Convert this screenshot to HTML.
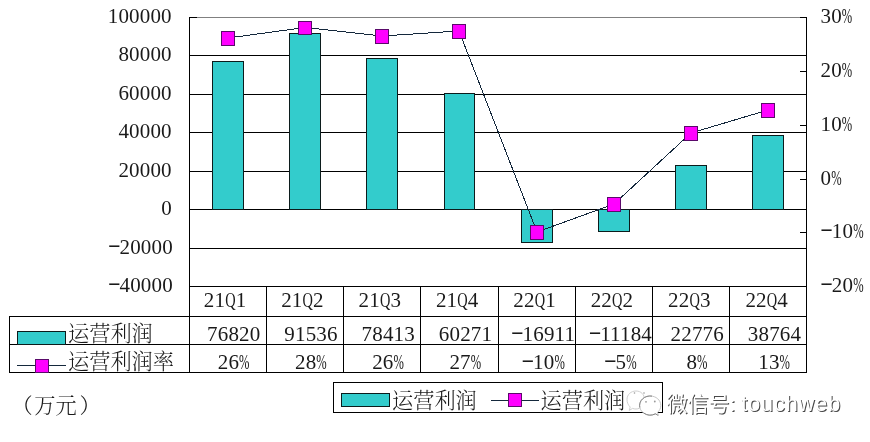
<!DOCTYPE html>
<html lang="zh"><head><meta charset="utf-8"><title>运营利润</title>
<style>html,body{margin:0;padding:0;background:#fff}body{width:870px;height:442px;overflow:hidden}svg{display:block}
text{font-family:"Liberation Serif","Noto Serif CJK SC",serif;font-size:21px;fill:#1a1a1a;letter-spacing:0.17px}
.cj{font-family:"Liberation Serif","Noto Serif CJK SC",serif;font-weight:300;letter-spacing:0;font-size:21.2px}
.wm{font-family:"Liberation Sans","Noto Sans CJK SC",sans-serif;font-size:21px;letter-spacing:0;fill:#fff;filter:drop-shadow(1px 1px .45px rgba(40,40,40,.85))}
.wm .en{font-size:21.5px;letter-spacing:1px}
.g{stroke:#000;stroke-width:1;fill:none;shape-rendering:crispEdges}
.b{fill:#33cccc;stroke:#0c1c1c;stroke-width:1;shape-rendering:crispEdges}
.m{fill:#ff00ff;stroke:#5a0a6a;stroke-width:1;shape-rendering:crispEdges}
.l{fill:none;stroke:#14283c;stroke-width:1;shape-rendering:crispEdges}
</style></head><body>
<svg width="870" height="442" viewBox="0 0 870 442">
<rect width="870" height="442" fill="#fff"/>
<path class="g" style="stroke:#808080" d="M189.5 17.5H806.5"/>
<path class="g" d="M189.5 55.5H806.5M189.5 94.5H806.5M189.5 132.5H806.5M189.5 171.5H806.5M189.5 209.5H806.5M189.5 248.5H806.5M189.5 286.5H806.5"/>
<path class="g" d="M189.5 17.0V372.5M806.5 17.0V372.5"/>
<path class="g" d="M189.5 17.5h7M806.5 17.5h-7M806.5 71.5h-7M806.5 125.5h-7M806.5 179.5h-7M806.5 232.5h-7M806.5 286.5h-7"/>
<path class="g" d="M9.0 316.5H807.0M9.0 344.5H807.0M9.0 372.5H807.0M9.5 316.5V372.5M266.5 286.5V372.5M343.5 286.5V372.5M420.5 286.5V372.5M498.5 286.5V372.5M575.5 286.5V372.5M652.5 286.5V372.5M729.5 286.5V372.5"/>
<rect class="b" x="212.5" y="61.5" width="31" height="148.0"/>
<rect class="b" x="289.5" y="33.5" width="31" height="176.0"/>
<rect class="b" x="366.5" y="58.5" width="31" height="151.0"/>
<rect class="b" x="444.5" y="93.5" width="30" height="116.0"/>
<rect class="b" x="521.5" y="209.5" width="31" height="33.0"/>
<rect class="b" x="598.5" y="209.5" width="31" height="22.0"/>
<rect class="b" x="675.5" y="165.5" width="31" height="44.0"/>
<rect class="b" x="752.5" y="135.5" width="31" height="74.0"/>
<polyline class="l" points="228.0,38.0 305.0,27.5 382.0,36.0 459.0,31.0 537.0,232.0 614.0,204.0 691.0,133.0 768.0,110.0"/>
<rect class="m" x="221.5" y="31.5" width="13" height="13.5"/>
<rect class="m" x="298.5" y="21.0" width="13" height="13.5"/>
<rect class="m" x="375.5" y="29.5" width="13" height="13.5"/>
<rect class="m" x="452.5" y="24.5" width="13" height="13.5"/>
<rect class="m" x="530.5" y="225.5" width="13" height="13.5"/>
<rect class="m" x="607.5" y="197.5" width="13" height="13.5"/>
<rect class="m" x="684.5" y="126.5" width="13" height="13.5"/>
<rect class="m" x="761.5" y="103.5" width="13" height="13.5"/>
<text x="171.8" y="22.7" text-anchor="end">100000</text>
<text x="171.8" y="60.7" text-anchor="end">80000</text>
<text x="171.8" y="99.7" text-anchor="end">60000</text>
<text x="171.8" y="137.7" text-anchor="end">40000</text>
<text x="171.8" y="176.7" text-anchor="end">20000</text>
<text x="171.8" y="214.7" text-anchor="end">0</text>
<text x="174.4" y="253.7" text-anchor="end"><tspan textLength="13.4" lengthAdjust="spacingAndGlyphs" dx="-1.5" dy="-2.7">-</tspan><tspan dx="-1.6" dy="2.7">20000</tspan></text>
<text x="174.4" y="291.7" text-anchor="end"><tspan textLength="13.4" lengthAdjust="spacingAndGlyphs" dx="-1.5" dy="-2.7">-</tspan><tspan dx="-1.6" dy="2.7">40000</tspan></text>
<text x="820.5" y="23.1">30<tspan textLength="10.5" lengthAdjust="spacingAndGlyphs">%</tspan></text>
<text x="820.5" y="77.1">20<tspan textLength="10.5" lengthAdjust="spacingAndGlyphs">%</tspan></text>
<text x="820.5" y="131.1">10<tspan textLength="10.5" lengthAdjust="spacingAndGlyphs">%</tspan></text>
<text x="820.5" y="185.1">0<tspan textLength="10.5" lengthAdjust="spacingAndGlyphs">%</tspan></text>
<text x="821.5" y="238.1"><tspan textLength="13.4" lengthAdjust="spacingAndGlyphs" dx="-1.5" dy="-2.7">-</tspan><tspan dx="-1.6" dy="2.7">10<tspan textLength="10.5" lengthAdjust="spacingAndGlyphs">%</tspan></tspan></text>
<text x="821.5" y="292.1"><tspan textLength="13.4" lengthAdjust="spacingAndGlyphs" dx="-1.5" dy="-2.7">-</tspan><tspan dx="-1.6" dy="2.7">20<tspan textLength="10.5" lengthAdjust="spacingAndGlyphs">%</tspan></tspan></text>
<text x="225.1" y="306.6" text-anchor="middle">21<tspan textLength="10.5" lengthAdjust="spacingAndGlyphs">Q</tspan>1</text>
<text x="233.8" y="340.6" text-anchor="middle">76820</text>
<text x="233.7" y="368.8" text-anchor="middle">26<tspan textLength="10.5" lengthAdjust="spacingAndGlyphs">%</tspan></text>
<text x="302.4" y="306.6" text-anchor="middle">21<tspan textLength="10.5" lengthAdjust="spacingAndGlyphs">Q</tspan>2</text>
<text x="311.0" y="340.6" text-anchor="middle">91536</text>
<text x="310.9" y="368.8" text-anchor="middle">28<tspan textLength="10.5" lengthAdjust="spacingAndGlyphs">%</tspan></text>
<text x="379.8" y="306.6" text-anchor="middle">21<tspan textLength="10.5" lengthAdjust="spacingAndGlyphs">Q</tspan>3</text>
<text x="388.3" y="340.6" text-anchor="middle">78413</text>
<text x="388.1" y="368.8" text-anchor="middle">26<tspan textLength="10.5" lengthAdjust="spacingAndGlyphs">%</tspan></text>
<text x="457.2" y="306.6" text-anchor="middle">21<tspan textLength="10.5" lengthAdjust="spacingAndGlyphs">Q</tspan>4</text>
<text x="465.5" y="340.6" text-anchor="middle">60271</text>
<text x="465.3" y="368.8" text-anchor="middle">27<tspan textLength="10.5" lengthAdjust="spacingAndGlyphs">%</tspan></text>
<text x="534.6" y="306.6" text-anchor="middle">22<tspan textLength="10.5" lengthAdjust="spacingAndGlyphs">Q</tspan>1</text>
<text x="544.5" y="340.6" text-anchor="middle"><tspan textLength="13.4" lengthAdjust="spacingAndGlyphs" dx="-1.5" dy="-2.7">-</tspan><tspan dx="-1.6" dy="2.7">16911</tspan></text>
<text x="544.6" y="368.8" text-anchor="middle"><tspan textLength="13.4" lengthAdjust="spacingAndGlyphs" dx="-1.5" dy="-2.7">-</tspan><tspan dx="-1.6" dy="2.7">10<tspan textLength="10.5" lengthAdjust="spacingAndGlyphs">%</tspan></tspan></text>
<text x="611.9" y="306.6" text-anchor="middle">22<tspan textLength="10.5" lengthAdjust="spacingAndGlyphs">Q</tspan>2</text>
<text x="621.7" y="340.6" text-anchor="middle"><tspan textLength="13.4" lengthAdjust="spacingAndGlyphs" dx="-1.5" dy="-2.7">-</tspan><tspan dx="-1.6" dy="2.7">11184</tspan></text>
<text x="621.8" y="368.8" text-anchor="middle"><tspan textLength="13.4" lengthAdjust="spacingAndGlyphs" dx="-1.5" dy="-2.7">-</tspan><tspan dx="-1.6" dy="2.7">5<tspan textLength="10.5" lengthAdjust="spacingAndGlyphs">%</tspan></tspan></text>
<text x="689.3" y="306.6" text-anchor="middle">22<tspan textLength="10.5" lengthAdjust="spacingAndGlyphs">Q</tspan>3</text>
<text x="697.3" y="340.6" text-anchor="middle">22776</text>
<text x="697.0" y="368.8" text-anchor="middle">8<tspan textLength="10.5" lengthAdjust="spacingAndGlyphs">%</tspan></text>
<text x="766.7" y="306.6" text-anchor="middle">22<tspan textLength="10.5" lengthAdjust="spacingAndGlyphs">Q</tspan>4</text>
<text x="774.5" y="340.6" text-anchor="middle">38764</text>
<text x="774.2" y="368.8" text-anchor="middle">13<tspan textLength="10.5" lengthAdjust="spacingAndGlyphs">%</tspan></text>
<rect class="b" x="17.5" y="331.5" width="48" height="13"/>
<text class="cj" x="68" y="341.3">运营利润</text>
<path class="l" d="M17 365.5H66"/>
<rect class="m" x="35.5" y="359.5" width="13" height="13"/>
<text class="cj" x="68" y="369.3">运营利润率</text>
<text class="cj" x="11.5" y="412.5">（<tspan dx="1.5">万元</tspan><tspan dx="3">）</tspan></text>
<rect class="g" x="333.5" y="382.5" width="329" height="30" fill="#fff"/>
<rect class="b" x="341.5" y="393.5" width="48" height="13"/>
<text class="cj" x="392" y="407.7">运营利润</text>
<path class="l" d="M491 400.5H539"/>
<rect class="m" x="508.5" y="393.5" width="13" height="13"/>
<text class="cj" x="540.5" y="407.7">运营利润率</text>
<rect x="624.5" y="388" width="22" height="23" rx="6" fill="#fff"/>
<g fill="#fff" stroke="#d0d0d0" stroke-width="1"><path d="M627 399.5c0-5 4-8.5 9-8.5s8.5 3.5 8.5 8.5s-4 9.5-8.5 9.5c-1.2 0-2.3-.2-3.4-.6l-3.4 2l1-3.4c-2-1.800-3.200-4.500-3.200-7.500z"/></g>
<g fill="#fff" stroke="#c6c6c6" stroke-width="1"><path d="M639.6 405.5c0-5.300 4.700-9.500 10.600-9.500s10.600 4.200 10.600 9.500c0 2.700-1.200 5.100-3.200 6.800l.9 3.200l-3.200-1.600c-1.500.7-3.300 1.100-5.100 1.100c-5.900 0-10.600-4.200-10.600-9.500z"/></g>
<path fill="none" stroke="#858585" stroke-width="1" d="M639.800 407.500A10.600 9.600 0 0 1 652 396.100M643.500 412.900A10.600 9.600 0 0 0 655.500 413.800l2.300 1.400"/>
<g fill="#999"><circle cx="634.500" cy="393" r=".8"/><circle cx="644" cy="393" r=".8"/><circle cx="646" cy="401.800" r=".9"/><circle cx="654.800" cy="401.500" r=".9"/></g>
<text class="wm" x="666.500" y="411">微信号: <tspan class="en">touchweb</tspan></text>
</svg></body></html>
